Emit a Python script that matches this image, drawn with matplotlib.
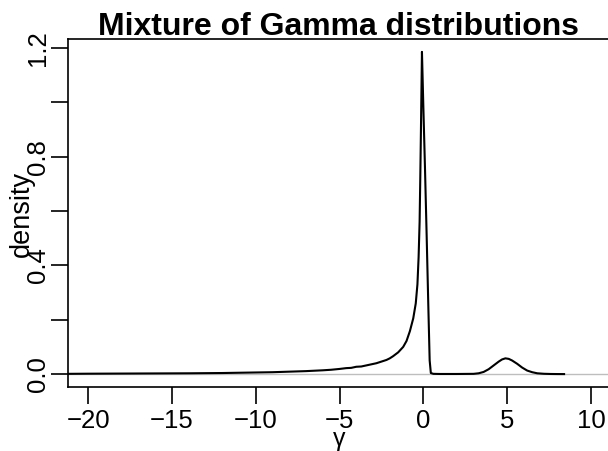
import matplotlib
matplotlib.use("Agg")
import matplotlib.pyplot as plt
import numpy as np

# Density curve (x = gamma, y = density)
gamma_x = [-21.2, -20.0, -18.0, -16.0, -14.0, -12.0, -10.0, -9.0, -8.0, -7.0,
           -6.0, -5.5, -5.0, -4.6, -4.3, -4.0, -3.7, -3.4, -3.1, -2.8,
           -2.5, -2.2, -2.0, -1.8, -1.5, -1.2, -1.0, -0.8, -0.6, -0.45,
           -0.35, -0.28, -0.22, -0.18, -0.14, -0.08, 0.0, 0.1, 0.2, 0.3,
           0.38, 0.45, 0.6, 1.0, 2.0, 3.0, 3.3, 3.6, 3.9, 4.2,
           4.5, 4.7, 4.9, 5.1, 5.3, 5.6, 5.9, 6.2, 6.5, 6.8,
           7.2, 7.6, 8.0, 8.4]
density_y = [0.001, 0.0015, 0.002, 0.0025, 0.003, 0.004, 0.006, 0.007, 0.009, 0.011,
             0.014, 0.016, 0.019, 0.022, 0.023, 0.027, 0.028, 0.032, 0.036, 0.040,
             0.046, 0.052, 0.058, 0.066, 0.080, 0.100, 0.122, 0.158, 0.205, 0.260,
             0.330, 0.430, 0.560, 0.720, 0.900, 1.185, 0.990, 0.760, 0.510, 0.250,
             0.050, 0.004, 0.001, 0.0005, 0.0005, 0.001, 0.003, 0.008, 0.018, 0.032,
             0.046, 0.054, 0.058, 0.056, 0.050, 0.038, 0.024, 0.013, 0.007, 0.003,
             0.0012, 0.0005, 0.0002, 0.0001]

x_ticks = [-20, -15, -10, -5, 0, 5, 10]
y_ticks = [0.0, 0.2, 0.4, 0.6, 0.8, 1.0, 1.2]
y_tick_labels = ["0.0", "", "0.4", "", "0.8", "", "1.2"]

plt.rcParams['font.family'] = ['Liberation Sans', 'DejaVu Sans']

W, H = 608, 451
fig = plt.figure(figsize=(W / 100, H / 100), dpi=100)
left_px, right_px, top_px, bottom_px = 68, 611, 39, 387
ax = fig.add_axes([left_px / W, 1 - bottom_px / H,
                   (right_px - left_px) / W, (bottom_px - top_px) / H])

ax.axhline(0, color='#bebebe', lw=1.0, zorder=1)
ax.plot(gamma_x, density_y, color='black', lw=1.5, zorder=2, clip_on=True)

ax.set_xlim(-21.2, 11.2)
ax.set_ylim(-0.0474, 1.2324)

for s in ['left', 'bottom', 'top', 'right']:
    ax.spines[s].set_linewidth(1.2)

ax.set_xticks(x_ticks)
ax.set_xticklabels([str(v).replace('-', '\u2212') for v in x_ticks])
ax.set_yticks(y_ticks)
ax.set_yticklabels(y_tick_labels, rotation=90, va='center')
ax.tick_params(axis='both', direction='out', length=12, width=1.2,
               labelsize=18.5)
ax.tick_params(axis='x', pad=3.5)
ax.tick_params(axis='y', pad=1)

fig.text(339 / W, 1 - 35 / H, "Mixture of Gamma distributions",
         ha='center', va='baseline', fontsize=23, fontweight='bold')
fig.text(339 / W, 1 - 446 / H, "\u03b3", ha='center', va='baseline', fontsize=18)
fig.text(22 / W, 1 - 214 / H, "density", ha='center', va='center',
         rotation=90, fontsize=19.5)

fig.savefig("out.png", dpi=100)
